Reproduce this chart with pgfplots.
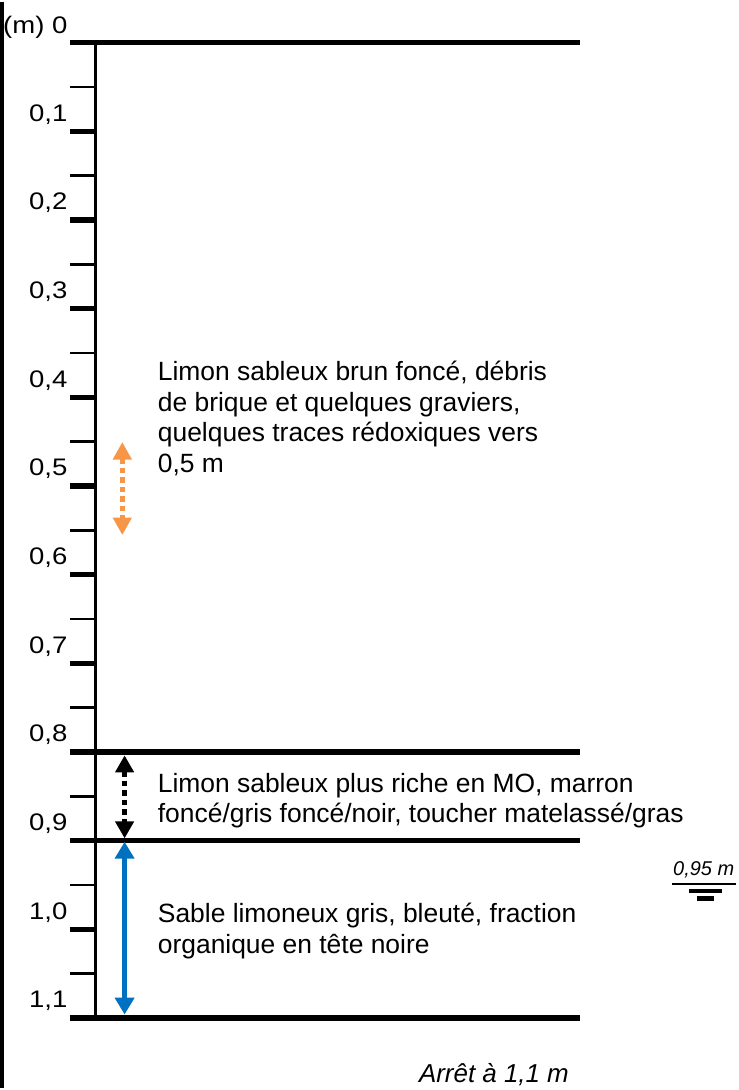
\documentclass[border=0pt]{standalone}
\usepackage{fontspec}
\setmainfont{Liberation Sans}
\newfontfamily\tickfont[FakeStretch=1.15]{Liberation Sans}
\usepackage{pgfplots}
\pgfplotsset{compat=1.18}
\usetikzlibrary{arrows.meta}
\definecolor{orangeA}{HTML}{F79646}
\definecolor{blueA}{HTML}{0070C0}
\begin{document}
\begin{tikzpicture}
\begin{axis}[
  width=370.5pt, height=545pt, scale only axis,
  xmin=0, xmax=741, ymin=-0.0461, ymax=1.1794, y dir=reverse,
  hide axis, clip=false,
]
\path (rel axis cs:0,0) rectangle (rel axis cs:1,1);
% left border
\addplot[black, line width=1.75pt] coordinates {(2,-0.0461) (2,1.1794)};
% vertical scale axis
\addplot[black, line width=1.5pt] coordinates {(95.5,0) (95.5,1.1)};
% thin ticks
\pgfplotsinvokeforeach{0.05,0.15,0.25,0.35,0.45,0.55,0.65,0.75,0.85,0.95,1.05}{
  \addplot[black, line width=1.3pt] coordinates {(70,#1) (95.5,#1)};
}
% thick ticks
\pgfplotsinvokeforeach{0.1,0.2,0.3,0.4,0.5,0.6,0.7,1.0}{
  \addplot[black, line width=2.6pt] coordinates {(70,#1) (95.5,#1)};
}
% layer boundaries
\pgfplotsinvokeforeach{0,0.8,0.9,1.1}{
  \addplot[black, line width=2.8pt] coordinates {(70,#1) (582,#1)};
}
% arrows
\addplot[orangeA, line width=2.75pt, dash pattern=on 2.75pt off 2pt,
  {Triangle[width=9pt,length=8.75pt]}-{Triangle[width=9pt,length=8.75pt]}]
  coordinates {(122.7,0.45053) (122.7,0.55543)};
\addplot[black, line width=2.75pt, dash pattern=on 2.75pt off 2pt,
  {Triangle[width=9pt,length=8.5pt]}-{Triangle[width=9pt,length=8.5pt]}]
  coordinates {(125,0.80391) (125,0.89757)};
\addplot[blueA, line width=2.8pt,
  {Triangle[width=9.5pt,length=8.5pt]}-{Triangle[width=9.5pt,length=8.5pt]}]
  coordinates {(125,0.90139) (125,1.09624)};
% water table symbol
\addplot[black, line width=1.35pt] coordinates {(674,0.94906) (738,0.94906)};
\addplot[black, line width=2pt] coordinates {(691,0.95682) (724,0.95682)};
\addplot[black, line width=2.2pt] coordinates {(699,0.96526) (716,0.96526)};

% tick labels
\tikzset{tl/.style={anchor=base east, inner sep=0pt, font=\tickfont\fontsize{12pt}{14pt}\selectfont}}
\node[tl] at (axis cs:68,-0.0105) {(m) 0};
\node[tl] at (axis cs:68,0.08876) {0,1};
\node[tl] at (axis cs:68,0.18876) {0,2};
\node[tl] at (axis cs:68,0.28876) {0,3};
\node[tl] at (axis cs:68,0.38876) {0,4};
\node[tl] at (axis cs:68,0.48876) {0,5};
\node[tl] at (axis cs:68,0.58876) {0,6};
\node[tl] at (axis cs:68,0.68876) {0,7};
\node[tl] at (axis cs:68,0.78876) {0,8};
\node[tl] at (axis cs:68,0.88876) {0,9};
\node[tl] at (axis cs:68,0.98876) {1,0};
\node[tl] at (axis cs:68,1.08876) {1,1};

% descriptions
\tikzset{dl/.style={anchor=base west, inner sep=0pt, font=\fontsize{13.25pt}{15.35pt}\selectfont}}
\node[dl] at (axis cs:158,0.38116) {Limon sableux brun foncé, débris};
\node[dl] at (axis cs:158,0.41567) {de brique et quelques graviers,};
\node[dl] at (axis cs:158,0.45019) {quelques traces rédoxiques vers};
\node[dl] at (axis cs:158,0.48471) {0,5 m};
\node[dl] at (axis cs:158,0.84551) {Limon sableux plus riche en MO, marron};
\node[dl] at (axis cs:158,0.88003) {foncé/gris foncé/noir, toucher matelassé/gras};
\node[dl] at (axis cs:158,0.99280) {Sable limoneux gris, bleuté, fraction};
\node[dl] at (axis cs:158,1.02732) {organique en tête noire};
\node[dl, font=\itshape\fontsize{13pt}{15pt}\selectfont] at (axis cs:420,1.17270) {Arrêt à 1,1 m};
\node[anchor=base west, inner sep=0pt, font=\itshape\fontsize{10pt}{12pt}\selectfont] at (axis cs:675,0.93996) {0,95 m};
\end{axis}
\end{tikzpicture}
\end{document}
